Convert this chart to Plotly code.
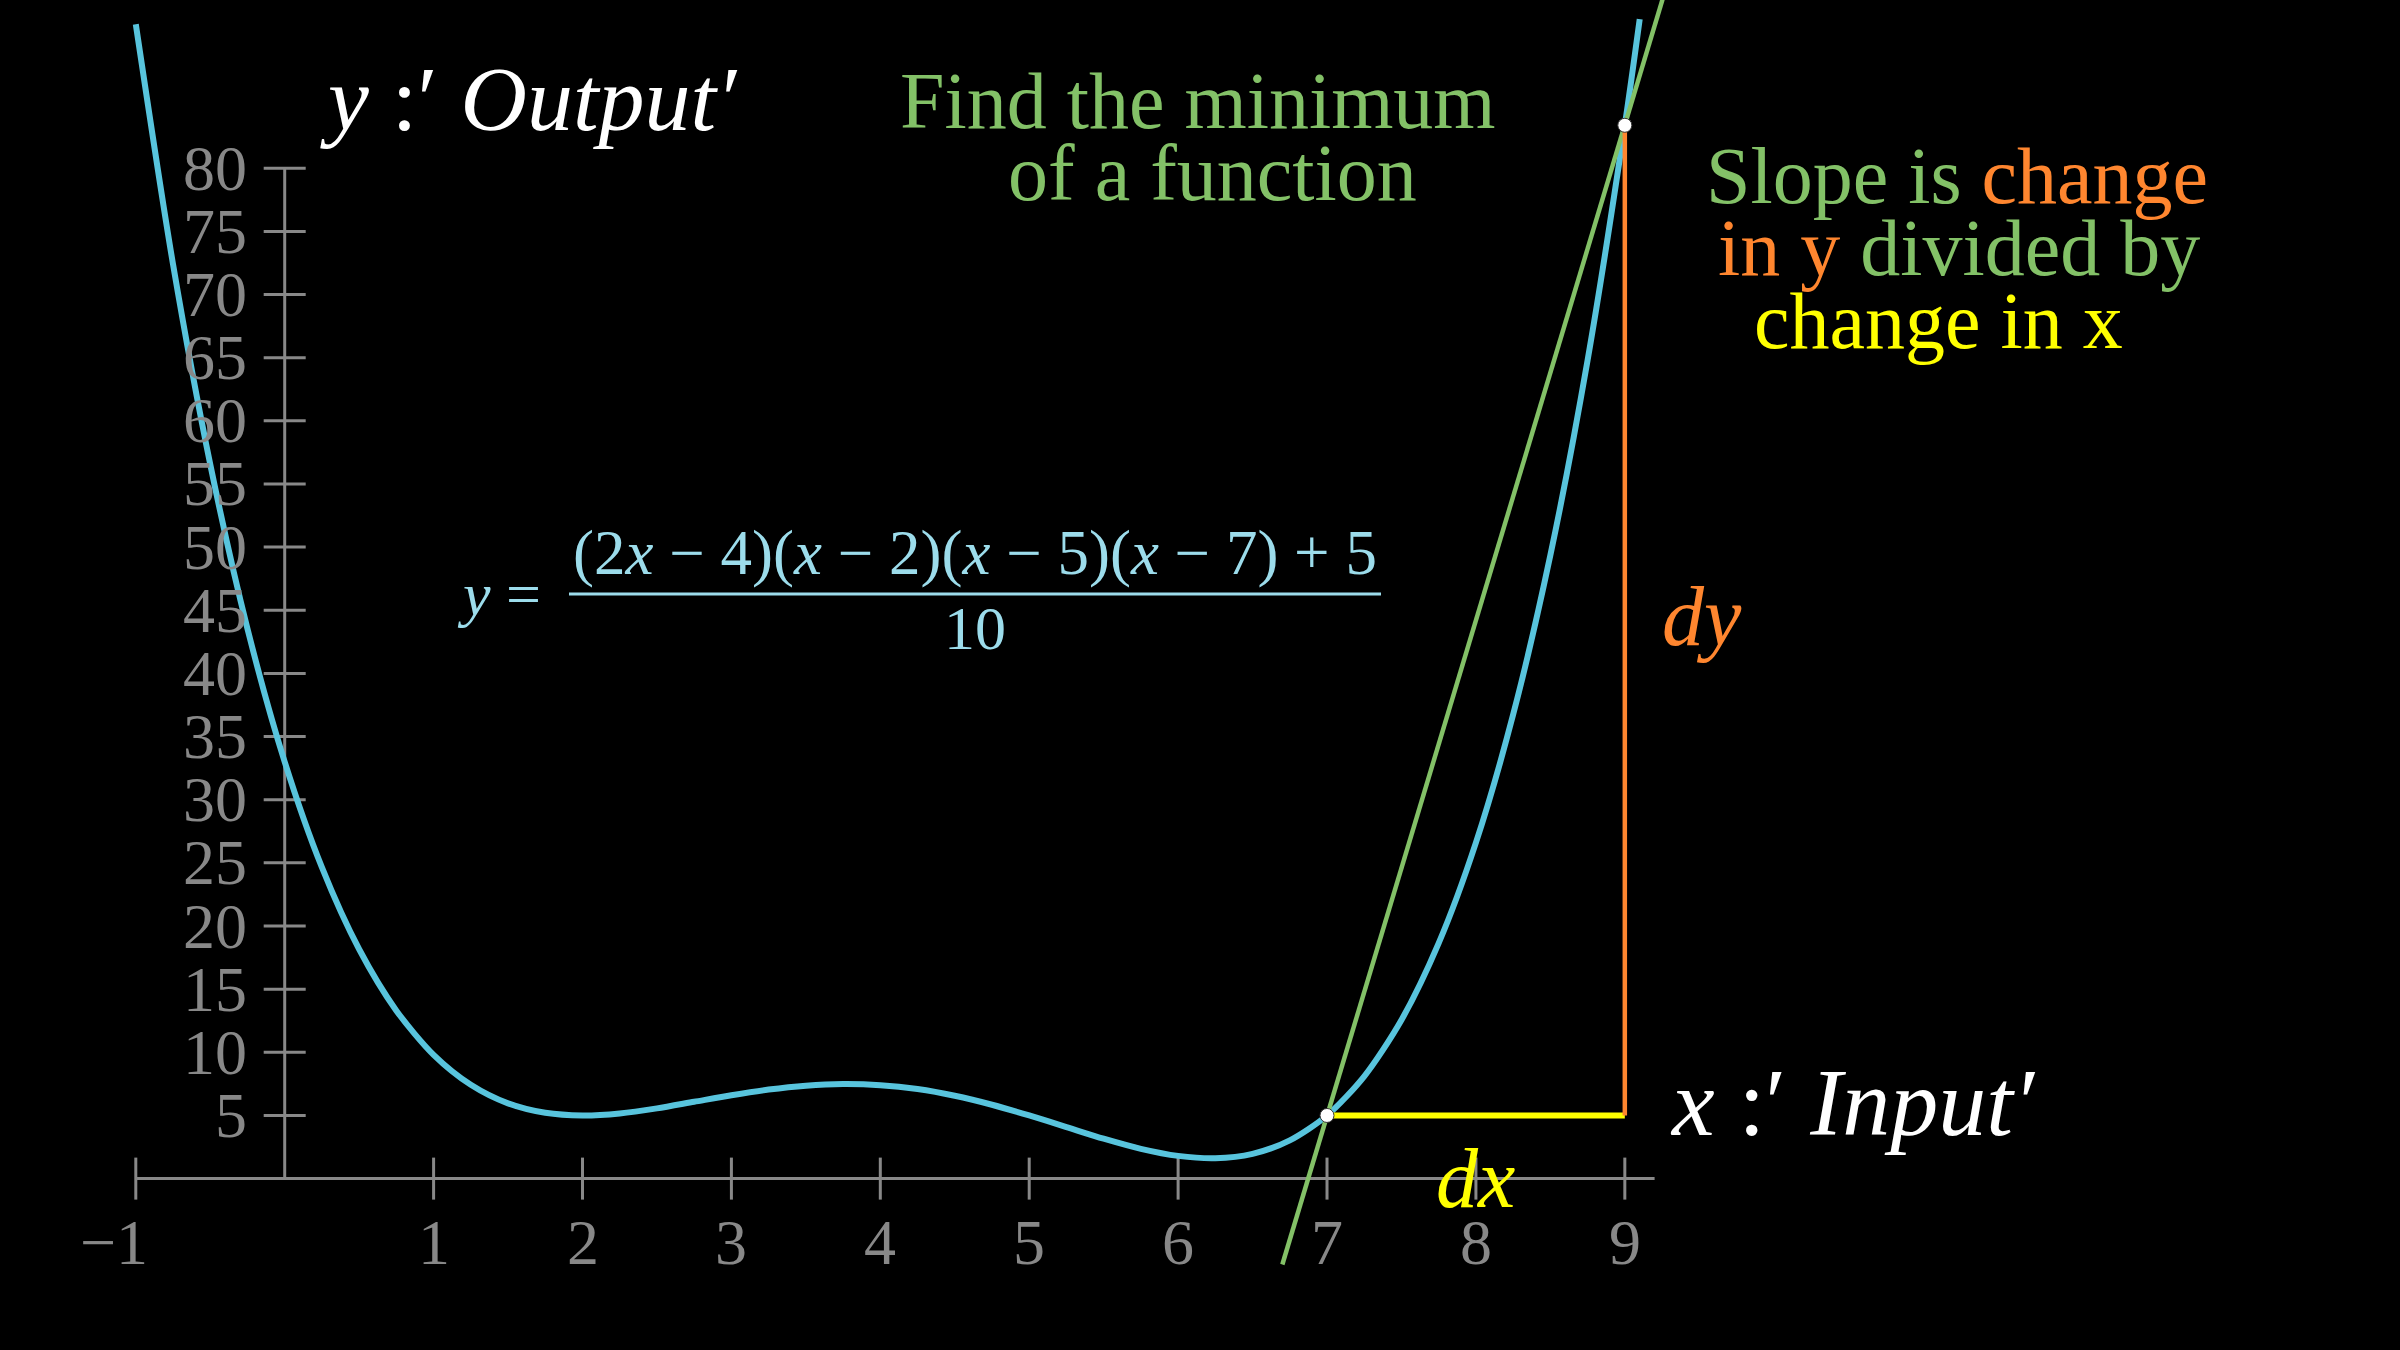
import plotly.graph_objects as go

# ----------------------------
# data
# ----------------------------
curve_x = [-1, -0.75, -0.5, -0.25, 0, 0.25, 0.5, 0.75, 1, 1.25, 1.5, 1.75, 2,
           2.25, 2.5, 2.75, 3, 3.25, 3.5, 3.75, 4, 4.25, 4.5, 4.75, 5, 5.25,
           5.5, 5.75, 6, 6.25, 6.5, 6.75, 7, 7.25, 7.5, 7.75, 8, 8.25, 8.5,
           8.75, 9, 9.1]
curve_y = [91.4, 72.4, 56.56, 43.54, 33.0, 24.64, 18.16, 13.3, 9.8, 7.43, 5.96,
           5.21, 5.0, 5.16, 5.56, 6.08, 6.6, 7.05, 7.36, 7.49, 7.4, 7.09, 6.56,
           5.85, 5.0, 4.08, 3.16, 2.36, 1.8, 1.61, 1.96, 3.03, 5.0, 8.1, 12.56,
           18.64, 26.6, 36.74, 49.36, 64.8, 83.4, 91.8]

secant_x = [6.70, 9.30]
secant_y = [-6.8, 95.2]

dx_x = [7, 9]
dx_y = [5, 5]
dy_x = [9, 9]
dy_y = [5, 83.4]

dot_x = [7, 9]
dot_y = [5, 83.4]

x_ticks = [-1, 1, 2, 3, 4, 5, 6, 7, 8, 9]
x_tick_labels = ["\u22121", "1", "2", "3", "4", "5", "6", "7", "8", "9"]
y_ticks = [5, 10, 15, 20, 25, 30, 35, 40, 45, 50, 55, 60, 65, 70, 75, 80]
y_tick_labels = [str(v) for v in y_ticks]

x_axis_span = [-1, 9.2]
y_axis_span = [0, 80]

# colours
BLUE = "#58C4DD"
LIGHT_BLUE = "#9CDCEB"
GREEN = "#83C167"
ORANGE = "#FF862F"
YELLOW = "#FFFF00"
GREY = "#888888"
FONT = "Liberation Serif"

fig = go.Figure()

# axes drawn as plain lines
fig.add_trace(go.Scatter(x=x_axis_span, y=[0, 0], mode="lines",
                         line=dict(color=GREY, width=3), hoverinfo="skip"))
fig.add_trace(go.Scatter(x=[0, 0], y=y_axis_span, mode="lines",
                         line=dict(color=GREY, width=3), hoverinfo="skip"))
fig.add_trace(go.Scatter(x=x_ticks, y=[0] * len(x_ticks), mode="markers",
                         marker=dict(symbol="line-ns", size=30,
                                     line=dict(color=GREY, width=3)),
                         hoverinfo="skip"))
fig.add_trace(go.Scatter(x=[0] * len(y_ticks), y=y_ticks, mode="markers",
                         marker=dict(symbol="line-ew", size=30,
                                     line=dict(color=GREY, width=3)),
                         hoverinfo="skip"))

# function curve
fig.add_trace(go.Scatter(x=curve_x, y=curve_y, mode="lines",
                         line=dict(color=BLUE, width=6, shape="spline",
                                   smoothing=0.8)))

# secant line
fig.add_trace(go.Scatter(x=secant_x, y=secant_y, mode="lines",
                         line=dict(color=GREEN, width=4.5)))

# dx / dy
fig.add_trace(go.Scatter(x=dx_x, y=dx_y, mode="lines",
                         line=dict(color=YELLOW, width=6)))
fig.add_trace(go.Scatter(x=dy_x, y=dy_y, mode="lines",
                         line=dict(color=ORANGE, width=4.5)))

# points on the curve
fig.add_trace(go.Scatter(x=dot_x, y=dot_y, mode="markers",
                         marker=dict(color="white", size=14,
                                     line=dict(color="#333333", width=1))))

annotations = []

# tick labels
for v, lab in zip(x_ticks, x_tick_labels):
    annotations.append(dict(x=v, y=0, text=lab, showarrow=False,
                            xanchor="center", yanchor="middle", yshift=-64,
                            xshift=-22 if v < 0 else 0,
                            font=dict(family=FONT, size=64, color=GREY)))
for v, lab in zip(y_ticks, y_tick_labels):
    annotations.append(dict(x=0, y=v, text=lab, showarrow=False,
                            xanchor="right", yanchor="middle", xshift=-36,
                            font=dict(family=FONT, size=64, color=GREY)))

# axis labels
annotations.append(dict(xref="paper", yref="paper", x=318 / 2400, y=1 - 99 / 1350,
                        text="<i>y</i> :\u2032 <i>Output\u2032</i>", showarrow=False,
                        xanchor="left", yanchor="middle",
                        font=dict(family=FONT, size=92, color="white")))
annotations.append(dict(xref="paper", yref="paper", x=1668 / 2400, y=1 - 1102 / 1350,
                        text="<i>x</i> :\u2032 <i>Input\u2032</i>", showarrow=False,
                        xanchor="left", yanchor="middle",
                        font=dict(family=FONT, size=96, color="white")))

# dx / dy labels
annotations.append(dict(x=8, y=0, text="<i>dx</i>", showarrow=False,
                        xanchor="center", yanchor="middle",
                        font=dict(family=FONT, size=84, color=YELLOW)))
annotations.append(dict(x=9.52, y=44.5, text="<i>dy</i>", showarrow=False,
                        xanchor="center", yanchor="middle",
                        font=dict(family=FONT, size=84, color=ORANGE)))

# title text
annotations.append(dict(xref="paper", yref="paper", x=1198 / 2400, y=1 - 101 / 1350,
                        text="Find the minimum", showarrow=False,
                        xanchor="center", yanchor="middle",
                        font=dict(family=FONT, size=80, color=GREEN)))
annotations.append(dict(xref="paper", yref="paper", x=1212 / 2400, y=1 - 173 / 1350,
                        text="of a function", showarrow=False,
                        xanchor="center", yanchor="middle",
                        font=dict(family=FONT, size=80, color=GREEN)))

# slope explanation
slope_lines = [
    (1957, 176, f"<span style='color:{GREEN}'>Slope is </span>"
                f"<span style='color:{ORANGE}'>change</span>"),
    (1959, 248, f"<span style='color:{ORANGE}'>in y</span>"
                f"<span style='color:{GREEN}'> divided by</span>"),
    (1938, 321, f"<span style='color:{YELLOW}'>change in x</span>"),
]
for cx, cy, txt in slope_lines:
    annotations.append(dict(xref="paper", yref="paper", x=cx / 2400, y=1 - cy / 1350,
                            text=txt, showarrow=False,
                            xanchor="center", yanchor="middle",
                            font=dict(family=FONT, size=80, color=GREEN)))

# formula
annotations.append(dict(xref="paper", yref="paper", x=499 / 2400, y=1 - 594 / 1350,
                        text="<i>y</i> =", showarrow=False,
                        xanchor="center", yanchor="middle",
                        font=dict(family=FONT, size=62, color=LIGHT_BLUE)))
annotations.append(dict(xref="paper", yref="paper", x=975 / 2400, y=1 - 553 / 1350,
                        text="(2<i>x</i> \u2212 4)(<i>x</i> \u2212 2)(<i>x</i> \u2212 5)"
                             "(<i>x</i> \u2212 7) + 5",
                        showarrow=False, xanchor="center", yanchor="middle",
                        font=dict(family=FONT, size=63, color=LIGHT_BLUE)))
annotations.append(dict(xref="paper", yref="paper", x=975 / 2400, y=1 - 628 / 1350,
                        text="10", showarrow=False,
                        xanchor="center", yanchor="middle",
                        font=dict(family=FONT, size=62, color=LIGHT_BLUE)))

fig.add_shape(type="line", xref="paper", yref="paper",
              x0=569 / 2400, x1=1381 / 2400, y0=1 - 594 / 1350, y1=1 - 594 / 1350,
              line=dict(color=LIGHT_BLUE, width=3))

fig.update_layout(
    width=2400,
    height=1350,
    margin=dict(l=0, r=0, t=0, b=0),
    paper_bgcolor="black",
    plot_bgcolor="black",
    showlegend=False,
    annotations=annotations,
    xaxis=dict(range=[-1.912, 14.206], visible=False, fixedrange=True),
    yaxis=dict(range=[-13.57, 93.32], visible=False, fixedrange=True),
)

# page body: no margin, black behind the figure, no modebar
fig.write_html("out.html",
               config={"displayModeBar": False},
               post_script="document.body.style.margin='0';"
                           "document.body.style.background='black';")
